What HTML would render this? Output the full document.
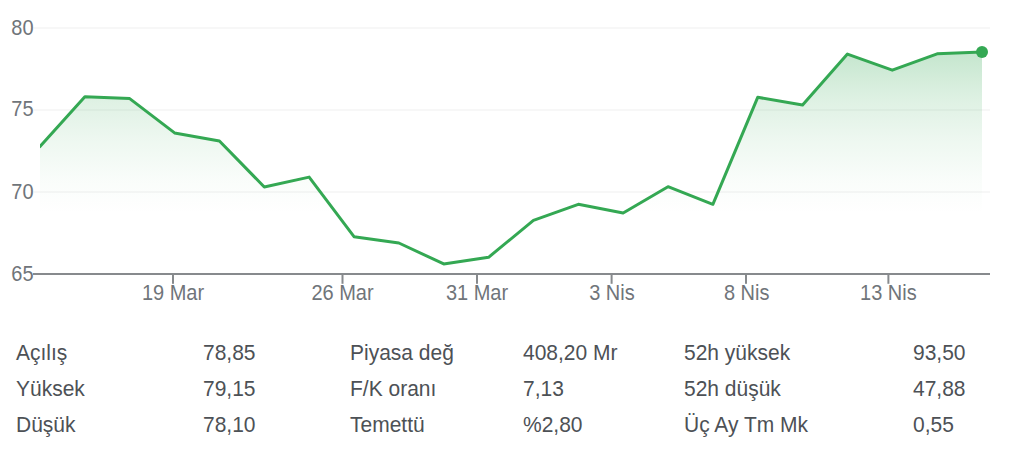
<!DOCTYPE html>
<html><head><meta charset="utf-8"><style>
html,body{margin:0;padding:0;background:#fff;width:1023px;height:454px;overflow:hidden}
svg{position:absolute;left:0;top:0;display:block}
text{font-family:"Liberation Sans",sans-serif}
.ax{font-size:20px;fill:#70757a}
.tb{font-size:21px;fill:#4d5156}
</style></head><body>
<svg width="1023" height="454" viewBox="0 0 1023 454">
<defs><linearGradient id="g" x1="0" y1="52" x2="0" y2="213" gradientUnits="userSpaceOnUse"><stop offset="0.0000" stop-color="#34a853" stop-opacity="0.29"/><stop offset="0.1429" stop-color="#34a853" stop-opacity="0.225"/><stop offset="0.2981" stop-color="#34a853" stop-opacity="0.16"/><stop offset="0.5466" stop-color="#34a853" stop-opacity="0.085"/><stop offset="0.7950" stop-color="#34a853" stop-opacity="0.028"/><stop offset="1.0000" stop-color="#34a853" stop-opacity="0.0"/>
</linearGradient><clipPath id="cl"><rect x="40" y="0" width="990" height="300"/></clipPath></defs>
<rect x="33.5" y="27.00" width="956.5" height="2" fill="#f7f7f7"/><text class="ax" text-anchor="end" transform="translate(33.50,34.50) scale(1,1.08)">80</text><rect x="33.5" y="109.00" width="956.5" height="2" fill="#f7f7f7"/><text class="ax" text-anchor="end" transform="translate(33.50,115.80) scale(1,1.08)">75</text><rect x="33.5" y="191.00" width="956.5" height="2" fill="#f7f7f7"/><text class="ax" text-anchor="end" transform="translate(33.50,198.50) scale(1,1.08)">70</text>
<path d="M40,273 L40.00,146.60 L84.86,96.80 L129.71,98.60 L174.57,132.90 L219.43,141.00 L264.29,187.00 L309.14,177.10 L354.00,236.70 L398.86,243.00 L443.71,263.90 L488.57,257.30 L533.43,220.40 L578.29,204.30 L623.14,213.00 L668.00,186.70 L712.86,204.30 L757.71,97.30 L802.57,105.00 L847.43,54.10 L892.29,70.20 L937.14,53.80 L982.00,52.10 L982,273 Z" fill="url(#g)"/>
<polyline clip-path="url(#cl)" points="40.00,146.60 84.86,96.80 129.71,98.60 174.57,132.90 219.43,141.00 264.29,187.00 309.14,177.10 354.00,236.70 398.86,243.00 443.71,263.90 488.57,257.30 533.43,220.40 578.29,204.30 623.14,213.00 668.00,186.70 712.86,204.30 757.71,97.30 802.57,105.00 847.43,54.10 892.29,70.20 937.14,53.80 982.00,52.10" fill="none" stroke="#34a853" stroke-width="3" stroke-linejoin="round" stroke-linecap="round"/>
<circle cx="982" cy="52.1" r="6" fill="#34a853"/>
<rect x="33" y="273" width="957" height="2" fill="#878a8d"/>
<text class="ax" text-anchor="end" transform="translate(33.50,280.70) scale(1,1.08)">65</text>
<rect x="172.00" y="273" width="2" height="10.8" fill="#878a8d"/><text class="ax" text-anchor="middle" transform="translate(173.00,300.00) scale(1,1.08)">19 Mar</text><rect x="341.50" y="273" width="2" height="10.8" fill="#878a8d"/><text class="ax" text-anchor="middle" transform="translate(342.50,300.00) scale(1,1.08)">26 Mar</text><rect x="476.00" y="273" width="2" height="10.8" fill="#878a8d"/><text class="ax" text-anchor="middle" transform="translate(477.00,300.00) scale(1,1.08)">31 Mar</text><rect x="610.60" y="273" width="2" height="10.8" fill="#878a8d"/><text class="ax" text-anchor="middle" transform="translate(611.90,300.00) scale(1,1.08)">3 Nis</text><rect x="745.00" y="273" width="2" height="10.8" fill="#878a8d"/><text class="ax" text-anchor="middle" transform="translate(746.70,300.00) scale(1,1.08)">8 Nis</text><rect x="887.40" y="273" width="2" height="10.8" fill="#878a8d"/><text class="ax" text-anchor="middle" transform="translate(888.40,300.00) scale(1,1.08)">13 Nis</text>
<text class="tb" text-anchor="start" transform="translate(16.00,359.80) scale(1,1.035)">Açılış</text><text class="tb" text-anchor="start" transform="translate(203.00,359.80) scale(1,1.035)">78,85</text><text class="tb" text-anchor="start" transform="translate(350.00,359.80) scale(1,1.035)">Piyasa değ</text><text class="tb" text-anchor="start" transform="translate(523.00,359.80) scale(1,1.035)">408,20 Mr</text><text class="tb" text-anchor="start" transform="translate(684.00,359.80) scale(1,1.035)">52h yüksek</text><text class="tb" text-anchor="start" transform="translate(913.00,359.80) scale(1,1.035)">93,50</text><text class="tb" text-anchor="start" transform="translate(16.00,395.60) scale(1,1.035)">Yüksek</text><text class="tb" text-anchor="start" transform="translate(203.00,395.60) scale(1,1.035)">79,15</text><text class="tb" text-anchor="start" transform="translate(350.00,395.60) scale(1,1.035)">F/K oranı</text><text class="tb" text-anchor="start" transform="translate(523.00,395.60) scale(1,1.035)">7,13</text><text class="tb" text-anchor="start" transform="translate(684.00,395.60) scale(1,1.035)">52h düşük</text><text class="tb" text-anchor="start" transform="translate(913.00,395.60) scale(1,1.035)">47,88</text><text class="tb" text-anchor="start" transform="translate(16.00,431.60) scale(1,1.035)">Düşük</text><text class="tb" text-anchor="start" transform="translate(203.00,431.60) scale(1,1.035)">78,10</text><text class="tb" text-anchor="start" transform="translate(350.00,431.60) scale(1,1.035)">Temettü</text><text class="tb" text-anchor="start" transform="translate(523.00,431.60) scale(1,1.035)">%2,80</text><text class="tb" text-anchor="start" transform="translate(684.00,431.60) scale(1,1.035)">Üç Ay Tm Mk</text><text class="tb" text-anchor="start" transform="translate(913.00,431.60) scale(1,1.035)">0,55</text>
</svg>
</body></html>
